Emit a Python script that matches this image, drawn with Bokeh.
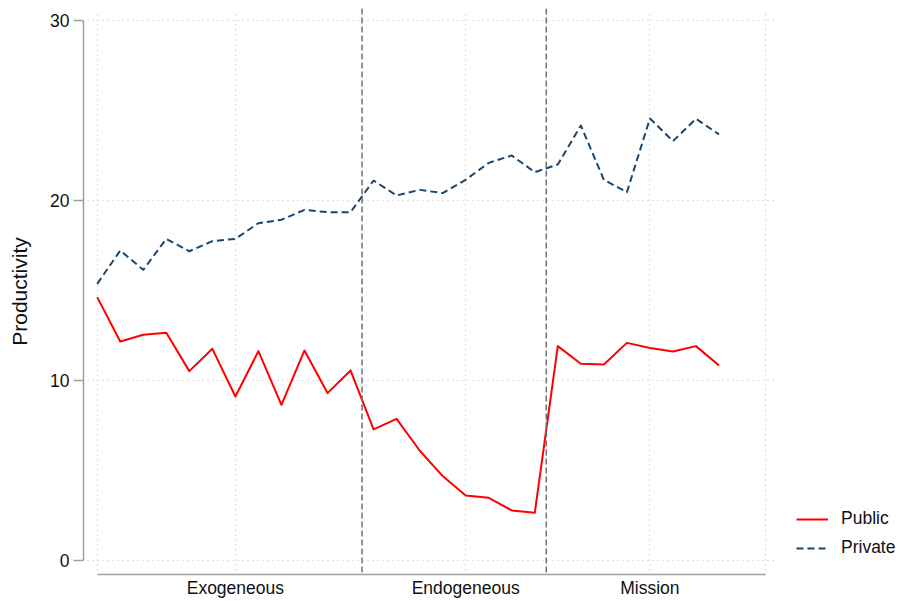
from bokeh.plotting import figure
from bokeh.models import Range1d, FixedTicker, Span, Legend, LegendItem, ColumnDataSource
from bokeh.embed import file_html
from bokeh.resources import INLINE

# ---- data ----
period = list(range(28))
public = [14.63, 12.17, 12.54, 12.65, 10.52, 11.76, 9.11, 11.63, 8.65, 11.67,
          9.30, 10.56, 7.28, 7.87, 6.11, 4.69, 3.61, 3.48, 2.78, 2.65,
          11.91, 10.93, 10.89, 12.09, 11.80, 11.61, 11.91, 10.83]
private = [15.37, 17.22, 16.15, 17.87, 17.18, 17.74, 17.87, 18.74, 18.93, 19.48,
           19.35, 19.35, 21.11, 20.28, 20.59, 20.41, 21.15, 22.09, 22.50, 21.57,
           22.00, 24.17, 21.15, 20.46, 24.56, 23.30, 24.54, 23.67]
phase_breaks = [11.5, 19.5]
phase_ticks = [6, 16, 24]
phase_names = ["Exogeneous", "Endogeneous", "Mission"]
x_grid_edges = [0, 29]
y_ticks = [0, 10, 20, 30]

FONT = "Liberation Sans"

src = ColumnDataSource(dict(period=period, public=public, private=private))

p = figure(width=900, height=600, output_backend="svg", toolbar_location=None,
           x_range=Range1d(-0.595, 34.88), y_range=Range1d(-0.778, 30.667),
           min_border_left=83, min_border_right=0, min_border_top=8,
           min_border_bottom=26)
p.outline_line_color = None
p.background_fill_color = "white"
p.border_fill_color = "white"

# grid
xt = sorted(x_grid_edges + phase_ticks)
p.xaxis.ticker = FixedTicker(ticks=xt)
p.xaxis.major_label_overrides = {t: "" for t in x_grid_edges} | {t: n for t, n in zip(phase_ticks, phase_names)}
p.yaxis.ticker = FixedTicker(ticks=y_ticks)
for g in (p.xgrid, p.ygrid):
    g.grid_line_color = "#c4c4c4"
    g.grid_line_dash = "1 4"
    g.grid_line_width = 1.2
p.ygrid.cross_bounds = (-0.42, 29.45)
p.xgrid.cross_bounds = (-0.56, 30.56)

# axes
p.xaxis.bounds = (x_grid_edges[0], x_grid_edges[1])
p.yaxis.bounds = (y_ticks[0], y_ticks[-1])
for ax in (p.xaxis, p.yaxis):
    ax.axis_line_color = "#a0a0a0"
    ax.axis_line_width = 1.5
    ax.major_tick_line_color = "#a0a0a0"
    ax.major_tick_line_width = 1.5
    ax.minor_tick_line_color = None
    ax.major_label_text_font = FONT
    ax.major_label_text_font_size = "17.5px"
    ax.major_label_text_color = "#111111"
p.xaxis.major_tick_line_color = None
p.xaxis.major_tick_out = 0
p.xaxis.major_tick_in = 0
p.xaxis.major_label_standoff = 3
p.yaxis.major_tick_out = 10
p.yaxis.major_tick_in = 0
p.yaxis.major_label_standoff = 4
p.yaxis.axis_label = "Productivity"
p.yaxis.axis_label_text_font = FONT
p.yaxis.axis_label_text_font_size = "21px"
p.yaxis.axis_label_text_font_style = "normal"
p.yaxis.axis_label_text_color = "#111111"
p.yaxis.axis_label_standoff = 16

# phase separators
for b in phase_breaks:
    p.add_layout(Span(location=b, dimension="height", line_color="#707070",
                      line_dash="6 3", line_width=1.5))

r_pub = p.line("period", "public", source=src, line_color="#ff0000", line_width=2,
               line_join="round")
r_pri = p.line("period", "private", source=src, line_color="#1a476f", line_width=2,
               line_dash="7 4", line_join="round")

legend = Legend(items=[LegendItem(label="Public", renderers=[r_pub]),
                       LegendItem(label="Private", renderers=[r_pri])],
                location=(713, 16), orientation="vertical")
legend.border_line_color = None
legend.background_fill_alpha = 0
legend.padding = 0
legend.margin = 0
legend.spacing = 8
legend.glyph_width = 32
legend.glyph_height = 20
legend.label_standoff = 13
legend.label_text_font = FONT
legend.label_text_font_size = "17.5px"
legend.label_text_color = "#111111"
p.add_layout(legend, "center")

open("out.html", "w").write(file_html(p, INLINE))
